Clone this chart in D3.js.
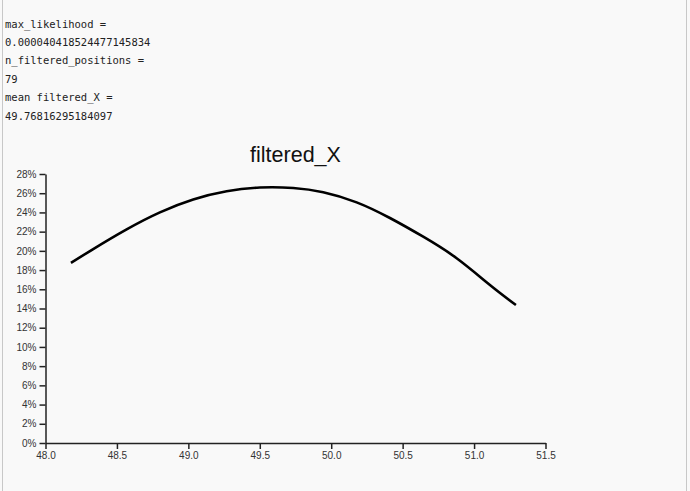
<!DOCTYPE html>
<html>
<head>
<meta charset="utf-8">
<script src="https://cdn.jsdelivr.net/npm/d3@7"></script>
<style>
  html, body { margin: 0; padding: 0; background: #f9f9f9; }
  body { width: 690px; height: 491px; position: relative; overflow: hidden; }
  .bl { position: absolute; top: 0; bottom: 0; width: 1px; background: #c8c8c8; }
  .out { position: absolute; left: 5px; font-family: "DejaVu Sans Mono", monospace; font-size: 10.5px; color: #222; white-space: pre; }
  svg { position: absolute; left: 0; top: 130px; }
</style>
</head>
<body>
<div class="bl" style="left:2px"></div>
<div class="bl" style="left:686px"></div>
<div id="text"></div>
<script>
// ---- data ----
const infoLines = [
  "max_likelihood =",
  "0.000040418524477145834",
  "n_filtered_positions =",
  "79",
  "mean filtered_X =",
  "49.76816295184097"
];
const chartTitle = "filtered_X";
const xValues = [48.178, 48.334, 48.568, 48.801, 49.034, 49.268, 49.501, 49.734, 49.944, 50.178, 50.411, 50.644, 50.878, 51.111, 51.293];
const yValues = [0.1874, 0.2019, 0.2224, 0.2401, 0.2535, 0.2620, 0.2659, 0.2654, 0.2610, 0.2505, 0.2342, 0.2147, 0.1923, 0.1645, 0.1436];
const xTicks = [48.0, 48.5, 49.0, 49.5, 50.0, 50.5, 51.0, 51.5];
const yTicks = [0, 0.02, 0.04, 0.06, 0.08, 0.10, 0.12, 0.14, 0.16, 0.18, 0.20, 0.22, 0.24, 0.26, 0.28];

// ---- text output ----
const textDiv = d3.select("#text");
infoLines.forEach((t, i) => {
  textDiv.append("div").attr("class", "out")
    .style("top", (17.5 + i * 18.4) + "px")
    .text(t);
});

// ---- chart ----
const width = 690, height = 361;
const margin = { top: 44, left: 45.5, right: 144.5, bottom: 48 };
const svg = d3.select("body").append("svg").attr("width", width).attr("height", height);

const x = d3.scaleLinear().domain([48, 51.5]).range([margin.left, width - margin.right]);
const y = d3.scaleLinear().domain([0, 0.28]).range([height - margin.bottom, margin.top]);

const data = xValues.map((v, i) => ({ x: v, y: yValues[i] }));

svg.append("text")
  .attr("x", (x.range()[0] + x.range()[1]) / 2)
  .attr("y", 32)
  .attr("text-anchor", "middle")
  .style("font-family", "Liberation Sans, Arial, sans-serif")
  .style("font-size", "21.5px")
  .style("fill", "#111")
  .text(chartTitle);

const xAxis = svg.append("g")
  .attr("transform", `translate(0,${y(0)})`)
  .call(d3.axisBottom(x).tickValues(xTicks).tickFormat(d3.format(".1f")).tickSizeOuter(0));
const yAxis = svg.append("g")
  .attr("transform", `translate(${x(48)},0)`)
  .call(d3.axisLeft(y).tickValues(yTicks).tickFormat(d3.format(".0%")).tickSizeOuter(0));

[xAxis, yAxis].forEach(g => {
  g.selectAll("text")
    .style("font-family", "Liberation Sans, Arial, sans-serif")
    .style("font-size", "10px")
    .style("fill", "#333");
  g.selectAll("path, line").attr("stroke", "#222").attr("stroke-width", 1.5);
});

svg.append("path")
  .datum(data)
  .attr("fill", "none")
  .attr("stroke", "#000")
  .attr("stroke-width", 2.6)
  .attr("d", d3.line().x(d => x(d.x)).y(d => y(d.y)).curve(d3.curveNatural));
</script>
</body>
</html>
